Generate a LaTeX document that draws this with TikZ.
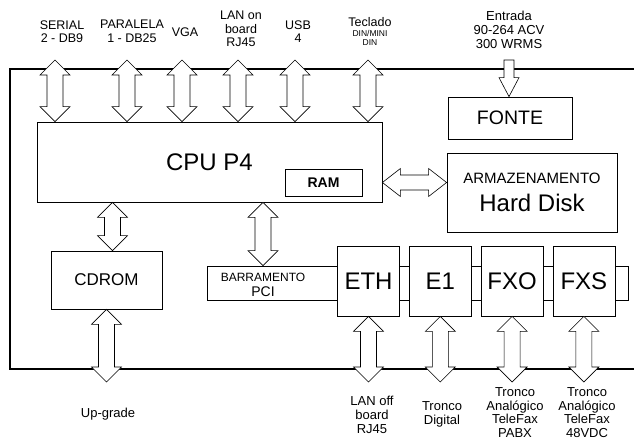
\documentclass[tikz,border=0pt]{standalone}
\usepackage{fontspec}
\setmainfont{Liberation Sans}
\usetikzlibrary{positioning,calc}

\newcommand{\fsz}[2]{\fontsize{#1}{#2}\selectfont}

% hollow double arrow, vertical (top point, bottom point)
\newcommand{\vbus}[2]{%
  \draw[bus] let \p1=(#1), \p2=(#2), \n1={\y1-\y2-30pt} in
    (\x1,\y1) -- ++(15pt,-15pt) -- ++(-7pt,0pt) -- ++(0pt,-\n1)
    -- ++(7pt,0pt) -- (\x1,\y2) -- ++(-15pt,15pt) -- ++(7pt,0pt)
    -- ++(0pt,\n1) -- ++(-7pt,0pt) -- cycle;}
% hollow double arrow, horizontal (left point, right point)
\newcommand{\hbus}[2]{%
  \draw[bus] let \p1=(#1), \p2=(#2), \n1={\x2-\x1-36pt} in
    (\x1,\y1) -- ++(18pt,14pt) -- ++(0pt,-6.5pt) -- ++(\n1,0pt)
    -- ++(0pt,6.5pt) -- (\x2,\y1) -- ++(-18pt,-14pt) -- ++(0pt,6.5pt)
    -- ++(-\n1,0pt) -- ++(0pt,-6.5pt) -- cycle;}

\begin{document}
\begin{tikzpicture}[
    x=1pt, y=-1pt,
    box/.style={draw, fill=white, line width=0.8pt, inner sep=2pt, align=center},
    card/.style={box, minimum width=62pt, minimum height=70pt, font=\fsz{24}{26}},
    bus/.style={draw, fill=white, line width=0.6pt, line join=miter},
    lbl/.style={align=center, inner sep=0pt, font=\fsz{12.5}{13.5}},
    lblb/.style={align=center, inner sep=0pt, font=\fsz{13}{14}}
  ]
  \useasboundingbox (0,0) rectangle (634,441);

  % outer frame
  \draw[line width=2.6pt] (634,69) -- (10,69) -- (10,369) -- (634,369);

  % boxes
  \node[box, minimum width=345pt, minimum height=80pt, font=\fsz{24}{26}] (cpu)
    at (209.5,162) {CPU P4};
  \node[box, minimum width=77pt, minimum height=27pt, font=\bfseries\fsz{14}{15}] (ram)
    at (323.5,182.5) {RAM};
  \node[box, minimum width=124pt, minimum height=42pt, font=\fsz{19.5}{21}] (fonte)
    at (510,118) {FONTE};
  \node[box, minimum width=170pt, minimum height=79pt] (hd) at (532,192.5)
    {{\fsz{15}{16}ARMAZENAMENTO}\\[9pt]{\fsz{24}{26}Hard Disk}};
  \node[box, minimum width=111pt, minimum height=58pt, font=\fsz{17}{18}] (cdrom)
    at (106.5,280) {CDROM};

  % PCI bus and cards
  \node[box, minimum width=421pt, minimum height=34pt] (pci) at (417.5,283) {};
  \node[inner sep=0pt, font=\fsz{12}{13}] (barr) at (263,277) {BARRAMENTO};
  \node[inner sep=0pt, font=\fsz{14}{15}] (pcitxt) at (263,292) {PCI};
  \node[card] (eth) at (368.5,281) {ETH};
  \node[card, right=9pt of eth] (e1) {E1};
  \node[card, right=9pt of e1] (fxo) {FXO};
  \node[card, right=9pt of fxo] (fxs) {FXS};

  % external ports (top)
  \node[lbl] (serial) at (62,31.5) {SERIAL\\2 - DB9};
  \node[lbl] (paralela) at (132,31.5) {PARALELA\\1 - DB25};
  \node[lbl] (vga) at (185,32) {VGA};
  \node[lbl] (lanon) at (241,29) {LAN on\\board\\RJ45};
  \node[lbl] (usb) at (298,31.5) {USB\\4};
  \node[lbl] (teclado) at (370,22) {Teclado};
  \node[align=center, inner sep=0pt, font=\fsz{8.5}{9}] (din) at (370,37.5) {DIN/MINI\\DIN};
  \node[lblb] (entrada) at (509,30) {Entrada\\90-264 ACV\\300 WRMS};

  \coordinate (t1) at (55,60);
  \coordinate (t2) at (127,60);
  \coordinate (t3) at (182,60);
  \coordinate (t4) at (238,60);
  \coordinate (t5) at (295,60);
  \coordinate (t6) at (368,60);
  \coordinate (t7) at (509,60);
  \foreach \t in {t1,t2,t3,t4,t5,t6}
    \vbus{\t}{\t |- cpu.north};

  % power input
  \draw[bus] let \p1=(t7), \p2=(fonte.north) in
    (\x1-5pt,\y1) -- (\x1+5pt,\y1) -- (\x1+5pt,\y2+19pt) -- (\x1+10pt,\y2+19pt)
    -- (\x1,\y2) -- (\x1-10pt,\y2+19pt) -- (\x1-5pt,\y2+19pt) -- cycle;

  % internal buses
  \hbus{cpu.east |- ram}{hd.west |- ram};
  \vbus{$(cdrom.north |- cpu.south)+(6,0)$}{$(cdrom.north)+(6,0)$};
  \vbus{barr |- cpu.south}{barr |- pci.north};

  % external ports (bottom)
  \coordinate (b0) at (106.5,382);
  \coordinate (b1) at (368.5,382);
  \vbus{cdrom.south}{b0};
  \vbus{eth.south}{eth.south |- b1};
  \vbus{e1.south}{e1.south |- b1};
  \vbus{fxo.south}{fxo.south |- b1};
  \vbus{fxs.south}{fxs.south |- b1};

  \node[lblb] (upgrade) at (108,414) {Up-grade};
  \node[lblb] (lanoff) at (372,415) {LAN off\\board\\RJ45};
  \node[lblb] (digital) at (442,414) {Tronco\\Digital};
  \node[lblb, font=\fsz{13}{13.5}] (pabx) at (515,412.5) {Tronco\\Analógico\\TeleFax\\PABX};
  \node[lblb, font=\fsz{13}{13.5}] (vdc) at (587,412.5) {Tronco\\Analógico\\TeleFax\\48VDC};
\end{tikzpicture}
\end{document}
